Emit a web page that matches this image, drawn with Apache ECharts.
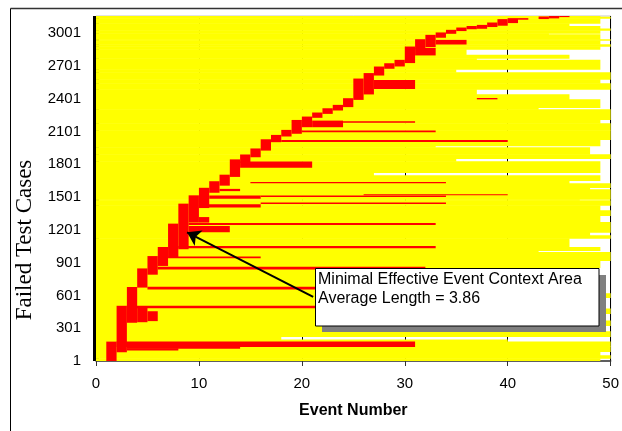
<!DOCTYPE html>
<html>
<head>
<meta charset="utf-8">
<title>Minimal effective event context</title>
<script src="https://cdn.jsdelivr.net/npm/echarts@6.0.0/dist/echarts.min.js"></script>
<style>
  html, body { margin: 0; padding: 0; background: #fff; }
  #chart { width: 622px; height: 431px; }
</style>
</head>
<body>
<div id="chart"></div>
<script>
// y axis: failed test case index (shown as row + 1), x axis: event number
const rowCount = 3158
const rowLabelStep = 300
const eventMax = 50
const eventStep = 10

// yellow: length (events) of each test case, per band of rows
// band i covers rows bandRow[i] .. bandRow[i + 1]
const bandRow = [0, 20, 46, 82, 128, 174, 192, 220, 266, 320, 366, 430, 476, 577, 614, 852, 916, 992, 1008, 1038,
  1118, 1145, 1175, 1267, 1328, 1374, 1420, 1466, 1475, 1566, 1584, 1621, 1648, 1694, 1722, 1823, 1850, 1887, 1951, 1965,
  2024, 2107, 2171, 2207, 2299, 2317, 2390, 2436, 2482, 2537, 2574, 2638, 2665, 2753, 2766, 2798, 2849, 2876, 2894, 2931,
  2940, 2985, 2995, 3023, 3037, 3060, 3087, 3133, 3146]
const bandLen = [49, 52, 49, 52, 52, 40, 18, 52, 47, 52, 48, 52, 48, 52, 48, 49, 50, 43, 49, 46,
  52, 48, 52, 49, 52, 49, 52, 47, 52, 48, 52, 46, 49, 27, 49, 35, 52, 48, 33, 49,
  50, 52, 49, 52, 43, 49, 46, 37, 51, 49, 52, 35, 49, 37, 46, 36, 49, 52, 49, 52,
  49, 44, 49, 52, 49, 46, 49, 52, 49]

// red staircase: event colEvent[i] belongs to the minimal context for rows colFrom[i] .. colTo[i]
const colEvent = [1, 2, 3, 4, 5, 6, 7, 8, 9, 10, 11, 12, 13, 14, 15, 16, 17, 18, 19, 20,
  21, 22, 23, 24, 25, 26, 27, 28, 29, 30, 31, 32, 33, 34, 35, 36, 37, 38, 39, 40, 41, 43, 44, 45]
const colFrom = [0, 80, 350, 672, 790, 870, 946, 1023, 1267, 1400, 1540, 1605, 1685, 1815, 1865, 1926, 2003, 2055, 2080, 2140,
  2226, 2262, 2293, 2324, 2390, 2440, 2613, 2675, 2696, 2727, 2858, 2873, 2959, 2995, 3020, 3037, 3041, 3057, 3069, 3093, 3124, 3130, 3136, 3148]
const colTo = [172, 500, 672, 842, 955, 1038, 1252, 1435, 1511, 1580, 1640, 1700, 1840, 1885, 1940, 2024, 2064, 2110, 2201, 2232,
  2269, 2308, 2339, 2400, 2580, 2630, 2690, 2720, 2751, 2873, 2940, 2980, 3002, 3026, 3047, 3061, 3071, 3093, 3124, 3133, 3133, 3148, 3154, 3158]

// red arms: longer contexts, events armFrom .. armTo for rows armRowFrom .. armRowTo
const armFrom = [2, 3, 3, 4, 5, 3, 5, 6, 7, 8, 9, 9, 10, 10, 16, 11, 16, 26, 12, 15, 14, 18, 20, 21, 24, 37, 27, 31, 33]
const armTo = [31, 14, 8, 5, 6, 30, 30, 32, 16, 33, 13, 33, 11, 16, 34, 16, 34, 40, 14, 34, 21, 40, 33, 24, 31, 39, 31, 33, 36]
const armRowFrom = [128, 112, 96, 355, 365, 482, 655, 838, 940, 1032, 1179, 1246, 1267, 1405, 1438, 1485, 1502, 1518, 1555, 1628,
  1768, 2005, 2095, 2140, 2180, 2395, 2490, 2797, 2897]
const armRowTo = [172, 128, 112, 497, 450, 500, 675, 858, 950, 1048, 1230, 1258, 1312, 1430, 1446, 1510, 1510, 1522, 1570, 1632,
  1820, 2018, 2105, 2195, 2190, 2402, 2567, 2860, 2934]

// annotation arrow, [event, row]
const arrowFrom = [21.1, 586]
const arrowTo = [8.85, 1178]

const yellowData = bandRow.map((r, i) => [0, bandLen[i], r, i + 1 < bandRow.length ? bandRow[i + 1] : rowCount])
const redColData = colEvent.map((k, i) => [k, k + 1, colFrom[i], colTo[i]])
const armData = armFrom.map((k, i) => [k, armTo[i], armRowFrom[i], armRowTo[i]])

// one rectangle per item: [event from, event to, row from, row to]
function renderBlock(params, api) {
  const p0 = api.coord([api.value(0), api.value(3)])
  const p1 = api.coord([api.value(1), api.value(2)])
  const cs = params.coordSys
  // overlap upwards a little so that neighbouring rows leave no seam
  const rect = echarts.graphic.clipRectByRect(
    { x: p0[0], y: p0[1] - 0.6, width: p1[0] - p0[0], height: p1[1] - p0[1] + 0.6 },
    { x: cs.x, y: cs.y, width: cs.width, height: cs.height }
  )
  if (!rect) return
  return {
    type: "rect",
    shape: rect,
    style: { fill: api.visual("color"), stroke: "none", lineWidth: 0 }
  }
}

function blockSeries(data, color, z) {
  return {
    type: "custom",
    renderItem: renderBlock,
    encode: { x: [0, 1], y: [2, 3] },
    itemStyle: { color: color, borderWidth: 0, borderColor: "transparent" },
    data: data,
    z: z,
    silent: true
  }
}

const myChart = echarts.init(document.getElementById("chart"))
const option = {
  animation: false,
  backgroundColor: "#fff",
  grid: {
    left: 96,
    right: 8,
    top: 16,
    bottom: 70,
    show: true,
    borderColor: "#c4c4c4",
    borderWidth: 1,
    backgroundColor: "transparent"
  },
  xAxis: {
    type: "value",
    min: 0,
    max: eventMax,
    interval: eventStep,
    name: "Event Number",
    nameLocation: "middle",
    nameGap: 42,
    nameTextStyle: { fontSize: 16, fontWeight: "bold", color: "#000", fontFamily: "Liberation Sans" },
    axisLine: { show: true, lineStyle: { color: "#333", width: 1.5 } },
    axisTick: { show: true, length: 5, lineStyle: { color: "#333" } },
    axisLabel: { fontSize: 15, color: "#000", fontFamily: "Liberation Sans", margin: 15 },
    splitLine: { show: true, lineStyle: { color: "#000", width: 1 } }
  },
  yAxis: {
    type: "value",
    min: 0,
    max: rowCount,
    interval: rowLabelStep,
    offset: 3,
    axisLine: { show: true, lineStyle: { color: "#000", width: 6, cap: "butt" } },
    axisTick: { show: false },
    splitLine: { show: false },
    axisLabel: {
      fontSize: 15,
      color: "#000",
      fontFamily: "Liberation Sans",
      margin: 12,
      showMaxLabel: false,
      formatter: function (v) { return String(v + 1) }
    }
  },
  series: [
    blockSeries(yellowData, "#ffff00", 2),
    blockSeries(redColData, "#ff0000", 3),
    blockSeries(armData, "#ff0000", 4),
    {
      // arrow of the annotation
      type: "scatter",
      data: [],
      z: 10,
      silent: true,
      markLine: {
        silent: true,
        animation: false,
        symbol: ["none", "arrow"],
        symbolSize: 13,
        label: { show: false },
        emphasis: { disabled: true },
        lineStyle: { color: "#000", width: 2, type: "solid" },
        data: [[{ coord: arrowFrom }, { coord: arrowTo }]]
      }
    }
  ],
  graphic: [
    // outer frame
    { type: "line", z: 100, shape: { x1: 10.5, y1: 8.5, x2: 622, y2: 8.5 }, style: { stroke: "#333", lineWidth: 1.5 } },
    { type: "line", z: 100, shape: { x1: 10.5, y1: 8.5, x2: 10.5, y2: 431 }, style: { stroke: "#000", lineWidth: 1 } },
    // y axis title
    {
      type: "text", z: 100, x: 24.5, y: 240, rotation: Math.PI / 2,
      style: { text: "Failed Test Cases", fontSize: 23, fontFamily: "Liberation Serif", fill: "#000", align: "center", verticalAlign: "middle" }
    },
    // annotation box with shadow
    { type: "rect", z: 100, shape: { x: 322, y: 275, width: 284, height: 57 }, style: { fill: "#808080" } },
    { type: "rect", z: 101, shape: { x: 315.5, y: 268.5, width: 283.5, height: 57.5 }, style: { fill: "#fff", stroke: "#000", lineWidth: 1 } },
    {
      type: "text", z: 102, x: 318, y: 270,
      style: {
        text: "Minimal Effective Event Context Area\nAverage Length = 3.86",
        fontSize: 16, lineHeight: 19, fontFamily: "Liberation Sans", fill: "#000"
      }
    }
  ]
}
myChart.setOption(option)

window.addEventListener("resize", function () {
  myChart.resize()
})
</script>
</body>
</html>
